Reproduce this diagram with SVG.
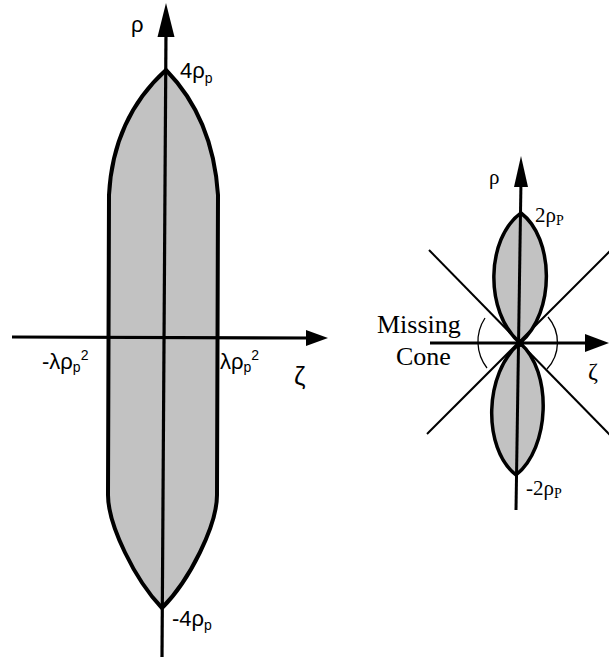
<svg xmlns="http://www.w3.org/2000/svg" width="609" height="662" viewBox="0 0 609 662">
<style>
.region{fill:#c2c2c2;stroke:#000;stroke-width:4;stroke-linejoin:round}
.regionR{fill:#c2c2c2;stroke:#000;stroke-width:3.5;stroke-linejoin:round}
.axis{stroke:#000;stroke-width:3.2;fill:none}
.axisR{stroke:#000;stroke-width:3;fill:none}
.diag{stroke:#000;stroke-width:2;fill:none}
.arc{stroke:#000;stroke-width:1.3;fill:none}
.head{fill:#000}
.sans{font-family:"Liberation Sans",Arial,sans-serif;fill:#000}
.serif{font-family:"Liberation Serif","Times New Roman",serif;fill:#000}
</style>
<rect width="609" height="662" fill="#fff"/>

<g id="left-region">
<path class="region" d="M166,70 Q113,118 109,195 L108,495 C108,525 135,580 162,608 C190,580 217,525 217,495 L218,195 Q213,118 166,70 Z"/>
</g>

<g id="right-upper-lobe">
<path class="regionR" d="M521,213 C486,238 484,312 520,343 C556,312 554,238 521,213 Z"/>
</g>
<g id="right-lower-lobe">
<path class="regionR" d="M520,343 C484,372 482,448 516,475 C550,448 553,372 520,343 Z"/>
</g>

<g id="connectors">
<!-- left figure axes -->
<line class="axis" x1="166" y1="30" x2="162" y2="657"/>
<polygon class="head" points="166,3 157.5,37 174.5,37"/>
<line class="axis" x1="12" y1="337" x2="310" y2="338"/>
<polygon class="head" points="328,338 306,330 306,346"/>

<!-- right figure cone lines -->
<line class="diag" x1="429" y1="250" x2="611" y2="436"/>
<line class="diag" x1="427" y1="434" x2="611" y2="250"/>
<path class="arc" d="M485,318 A43,43 0 0 0 487,368"/>
<path class="arc" d="M548,317 A39,39 0 0 1 547,369"/>

<!-- right figure axes -->
<line class="axisR" x1="521" y1="180" x2="516" y2="510"/>
<polygon class="head" points="521,156 514,187 528,187"/>
<line class="axisR" x1="430" y1="343" x2="590" y2="343"/>
<polygon class="head" points="609,343 585,334 585,352"/>
<circle cx="520" cy="343" r="4" fill="#000"/>
</g>

<g id="labels-left">
<text class="sans" x="131" y="32" font-size="22">ρ</text>
<text class="sans" x="180" y="78" font-size="22">4ρ<tspan font-size="14" dy="5">p</tspan></text>
<text class="sans" x="42" y="369" font-size="22">-λρ<tspan font-size="14" dy="3">p</tspan><tspan font-size="14" dy="-12">2</tspan></text>
<text class="sans" x="220" y="369" font-size="22">λρ<tspan font-size="14" dy="3">p</tspan><tspan font-size="14" dy="-12">2</tspan></text>
<text class="sans" x="294" y="385" font-size="26">ζ</text>
<text class="sans" x="172" y="626" font-size="22">-4ρ<tspan font-size="14" dy="4">p</tspan></text>
</g>

<g id="labels-right">
<text class="serif" x="489" y="184" font-size="21">ρ</text>
<text class="serif" x="535" y="222" font-size="21">2ρ<tspan font-size="14" dy="3">P</tspan></text>
<text class="serif" x="377" y="333" font-size="26">Missing</text>
<text class="serif" x="396" y="365" font-size="26">Cone</text>
<text class="serif" x="588" y="379" font-size="24">ζ</text>
<text class="serif" x="526" y="495" font-size="21">-2ρ<tspan font-size="14" dy="3">P</tspan></text>
</g>
</svg>
